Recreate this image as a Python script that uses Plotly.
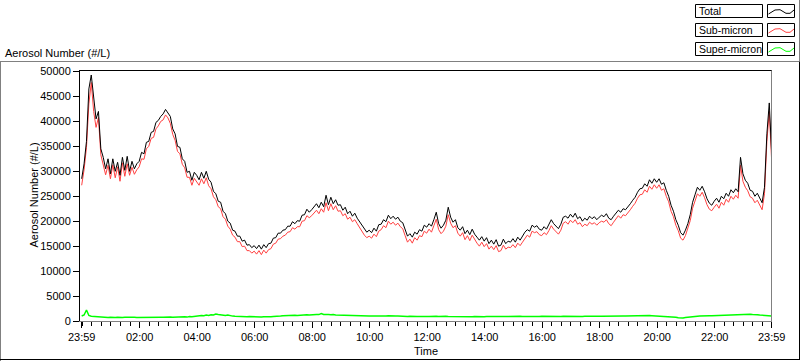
import pandas as pd
import plotly.graph_objects as go

# ---------------- data (5-minute samples, 23:59 -> 23:59 next day) ----------------
total = [
    28500, 31500, 36000, 46500, 49300, 44500, 40500, 42000, 34500, 32800, 30500, 32500,
    29500, 32500, 30000, 31800, 29200, 32800, 30200, 33000, 30000, 32000, 30500, 31500,
    32000, 33800, 33500, 35800, 36000, 37800, 38000, 39800, 40200, 41000, 41500, 42400,
    41800, 41000, 38500, 37500, 35000, 34800, 32500, 32000, 29800, 30000, 28200, 29800,
    29200, 28300, 29800, 28600, 30000, 28400, 27800, 26000, 25500, 24000, 23800, 22000,
    21500, 20000, 19600, 18200, 18000, 17000, 17000, 16000, 16200, 15200, 15300, 14700,
    15100, 14500, 15200, 14400, 15300, 14700, 15500, 15600, 16600, 16700, 17600, 17600,
    18200, 18300, 19000, 19000, 19900, 19500, 20100, 20000, 21200, 21300, 22400, 21800,
    22300, 22800, 23500, 22700, 23800, 22900, 25200, 23300, 24800, 23500, 24300, 23200,
    23300, 22200, 22800, 21500, 22000, 21000, 21600, 20600, 19900, 19000, 18400, 17800,
    18200, 17700, 18600, 18000, 19300, 19400, 20300, 19900, 21200, 20500, 21000, 20400,
    20800, 20000, 19700, 18200, 17000, 17500, 16800, 17800, 17400, 18300, 18000, 19200,
    18800, 19500, 19000, 20300, 21800, 19500, 18600, 19200, 20200, 22800, 20800, 19800,
    20300, 18700, 18200, 18900, 17500, 18200, 17300, 18400, 17400, 16800, 16200, 16900,
    16000, 16700, 15500, 16200, 15400, 16300, 15000, 15200, 16400, 15500, 16000, 15800,
    16500, 15800, 16800, 16200, 17000, 17800, 18300, 18000, 19200, 18800, 19100, 18400,
    18200, 18900, 18400, 19300, 20300, 19500, 19000, 18500, 19400, 20800, 21000, 20600,
    21400, 20800, 21600, 20500, 20900, 20000, 20600, 20200, 21000, 20500, 20900, 20300,
    20800, 21200, 20900, 21500, 20600, 20300, 21000, 21700, 22200, 21800, 22500, 22300,
    22800, 23500, 24200, 24800, 25800, 26500, 26600, 27500, 27000, 28300, 27600, 28500,
    27800, 28500, 27400, 27700, 26200, 25000, 23200, 22000, 20300, 19200, 17700, 17200,
    18200, 19500, 21300, 23800, 25300, 26800, 26200, 27000, 25900, 24500, 23600, 23200,
    24000, 24600, 23800, 25000, 24500, 25600, 25000, 26300, 25700, 26500, 25900, 32800,
    29500, 28200, 27600, 26200, 26000, 25000, 25600, 24500, 23700, 26800, 37500, 43700,
    33500,
]

sub_micron = [
    27200, 30300, 34800, 43500, 47800, 42000, 38800, 40800, 33300, 31300, 29300, 31200,
    28500, 31300, 28700, 30900, 28000, 31700, 29000, 31500, 29200, 30800, 29400, 30300,
    30900, 32500, 32400, 34500, 35000, 36600, 36800, 38500, 39100, 40000, 40300, 41300,
    40700, 39600, 37400, 36200, 34000, 33500, 31400, 30700, 28800, 28800, 27200, 28600,
    28000, 27200, 28500, 27500, 28700, 27100, 26500, 24900, 24300, 22900, 22500, 20900,
    20400, 19000, 18400, 17200, 16800, 15900, 15900, 14900, 15000, 14100, 14100, 13600,
    14000, 13400, 14100, 13300, 14200, 13600, 14300, 14500, 15400, 15600, 16400, 16500,
    17000, 17200, 17800, 17900, 18700, 18400, 18900, 18900, 20000, 20100, 21100, 20700,
    21100, 21700, 22200, 21500, 22500, 21800, 23700, 22100, 23500, 22300, 23100, 22000,
    22100, 21100, 21500, 20400, 20800, 19900, 20300, 19500, 18700, 17900, 17200, 16700,
    17000, 16600, 17400, 16900, 18000, 18300, 19100, 18700, 20000, 19400, 19800, 19200,
    19600, 18900, 18500, 17100, 15800, 16400, 15600, 16700, 16200, 17100, 16900, 18000,
    17600, 18400, 17800, 19100, 20400, 18300, 17500, 18000, 19000, 21300, 19600, 18700,
    19100, 17600, 17000, 17700, 16300, 17100, 16100, 17200, 16300, 15600, 15000, 15800,
    14900, 15500, 14400, 15000, 14300, 15100, 13900, 14100, 15200, 14400, 14800, 14700,
    15300, 14700, 15600, 15100, 15800, 16600, 17200, 16800, 18000, 17700, 17900, 17300,
    17100, 17700, 17300, 18100, 19100, 18400, 17800, 17400, 18200, 19600, 19900, 19400,
    20200, 19700, 20300, 19400, 19700, 18900, 19400, 19100, 19800, 19400, 19700, 19200,
    19700, 20000, 19800, 20300, 19500, 19100, 19800, 20500, 21100, 20600, 21300, 21100,
    21600, 22300, 23000, 23600, 24600, 25300, 25400, 26300, 25800, 27000, 26400, 27300,
    26600, 27300, 26200, 26500, 25000, 23900, 22000, 20900, 19200, 18100, 16600, 16200,
    17100, 18400, 20100, 22600, 24100, 25500, 25000, 25800, 24700, 23300, 22400, 22100,
    22800, 23400, 22600, 23800, 23200, 24400, 23800, 25000, 24400, 25200, 24600, 31200,
    28000, 26800, 26100, 24900, 24600, 23700, 24200, 23100, 22300, 25500, 36000, 42000,
    32000,
]

super_micron = [
    1000, 1200, 2200, 1100, 950, 900, 820, 760, 800, 720, 760, 700,
    740, 680, 720, 760, 690, 700, 740, 780, 700, 720, 760, 700,
    720, 700, 760, 740, 700, 780, 760, 720, 800, 760, 740, 780,
    760, 800, 740, 780, 820, 760, 800, 840, 780, 900, 860, 940,
    980, 1020, 1100, 1050, 1180, 1120, 1250, 1200, 1380, 1300, 1220, 1150,
    1100, 1180, 1020, 980, 940, 900, 960, 880, 900, 860, 920, 880,
    820, 860, 800, 780, 840, 800, 880, 860, 920, 900, 960, 1000,
    1040, 1080, 1100, 1060, 1120, 1140, 1100, 1160, 1200, 1180, 1240, 1200,
    1260, 1220, 1300, 1280, 1500, 1320, 1360, 1280, 1240, 1300, 1200, 1180,
    1140, 1100, 1080, 1120, 1060, 1040, 1080, 1020, 1060, 1000, 1040, 1000,
    980, 1020, 1000, 960, 1040, 1000, 980, 1020, 1060, 1000, 980, 1020,
    1000, 960, 940, 980, 920, 960, 900, 940, 920, 880, 940, 900,
    920, 880, 940, 900, 960, 920, 880, 900, 940, 920, 900, 880,
    900, 860, 880, 920, 880, 840, 880, 860, 900, 860, 840, 880,
    860, 880, 900, 860, 880, 920, 900, 880, 920, 900, 880, 920,
    900, 940, 920, 960, 920, 900, 940, 960, 920, 940, 900, 920,
    940, 920, 900, 940, 960, 920, 900, 940, 920, 960, 940, 920,
    960, 940, 920, 960, 940, 900, 940, 920, 960, 940, 980, 960,
    940, 960, 980, 940, 960, 1000, 980, 960, 1000, 980, 1020, 1000,
    1020, 1000, 1040, 1020, 1060, 1040, 1080, 1060, 1040, 1080, 1060, 1040,
    1020, 1000, 980, 960, 940, 900, 860, 820, 740, 640, 560, 600,
    700, 780, 860, 900, 940, 960, 1000, 980, 1020, 1000, 1040, 1060,
    1080, 1100, 1140, 1120, 1180, 1200, 1240, 1300, 1280, 1320, 1360, 1400,
    1380, 1400, 1340, 1360, 1300, 1320, 1260, 1200, 1160, 1120, 1080, 1060,
    1000,
]

times = pd.date_range("2000-01-01 23:59", periods=len(total), freq="5min")

x_tick_vals = ["2000-01-01 23:59"] + [f"2000-01-02 {h:02d}:00" for h in range(2, 24, 2)] + ["2000-01-02 23:59"]
x_tick_text = ["23:59"] + [f"{h:02d}:00" for h in range(2, 24, 2)] + ["23:59"]
y_tick_vals = list(range(0, 50001, 5000))

series_names = ["Total", "Sub-micron", "Super-micron"]
series_colors = ["#000000", "#ff4040", "#00ff00"]

# ---------------- figure ----------------
W, H = 800, 361
L, R, T, B = 80, 28, 70, 40
PW, PH = W - L - R, H - T - B

def px(x):
    return (x - L) / PW

def py(y):
    return (H - B - y) / PH

FONT = "Liberation Sans, Arial, sans-serif"

fig = go.Figure()
for name, ys, col, wid in [("Super-micron", super_micron, series_colors[2], 1.5),
                           ("Sub-micron", sub_micron, series_colors[1], 1),
                           ("Total", total, series_colors[0], 1)]:
    fig.add_trace(go.Scatter(x=times, y=ys, mode="lines", name=name,
                             line=dict(color=col, width=wid), showlegend=False,
                             hoverinfo="skip"))

shapes = []
def line(x0, y0, x1, y1, color, width=1):
    shapes.append(dict(type="line", xref="paper", yref="paper",
                       x0=px(x0), y0=py(y0), x1=px(x1), y1=py(y1),
                       line=dict(color=color, width=width), layer="above"))

# outer panel
line(0, 61.5, 799, 61.5, "#808080")
line(0.5, 61.5, 0.5, 361, "#808080")
line(0, 359.5, 799.5, 359.5, "#000000")
line(799.5, 0, 799.5, 61.5, "#808080")
line(799.5, 61.5, 799.5, 360, "#000000")
# plot frame (top black, right gray)
line(80, 70.5, 772, 70.5, "#000000")
line(771.5, 70.5, 771.5, 321, "#808080")

annotations = [
    dict(text="Aerosol Number (#/L)", x=px(3), y=py(52.5), xanchor="left", yanchor="middle"),
    dict(text="Time", x=0.5, y=py(351), xanchor="center", yanchor="middle"),
    dict(text="Aerosol Number (#/L)", x=px(33), y=0.5, xanchor="center", yanchor="middle", textangle=-90),
]

# custom LabVIEW-style legend
row_tops = [4.5, 23.5, 42.5]
zig = [(768.5, 9.5), (775, 5.5), (780, 5.2), (786, 8.8), (790, 8.8), (794, 5.5)]
for name, col, top in zip(series_names, series_colors, row_tops):
    bot = top + 13
    shapes.append(dict(type="rect", xref="paper", yref="paper",
                       x0=px(695.5), x1=px(762.5), y0=py(bot), y1=py(top),
                       line=dict(color="#000000", width=1), fillcolor="white", layer="above"))
    shapes.append(dict(type="rect", xref="paper", yref="paper",
                       x0=px(767.5), x1=px(794.5), y0=py(bot), y1=py(top),
                       line=dict(color="#000000", width=1), fillcolor="white", layer="above"))
    path = "M " + " L ".join(f"{px(x)},{py(top + y)}" for x, y in zig)
    shapes.append(dict(type="path", xref="paper", yref="paper", path=path,
                       line=dict(color=col, width=1), layer="above"))
    annotations.append(dict(text=name, x=px(696.5), y=py(top + 6.8), xanchor="left", yanchor="middle",
                            fontsize=10.5))

for a in annotations:
    size = a.pop("fontsize", 11)
    a.update(xref="paper", yref="paper", showarrow=False,
             font=dict(family=FONT, size=size, color="#000000"))

fig.update_layout(
    width=W, height=H,
    margin=dict(l=L, r=R, t=T, b=B, autoexpand=False),
    paper_bgcolor="white", plot_bgcolor="white",
    font=dict(family=FONT, size=11, color="#000000"),
    showlegend=False,
    shapes=shapes, annotations=annotations,
    xaxis=dict(
        range=["2000-01-01 23:55:30", "2000-01-02 23:59:40"],
        tickmode="array", tickvals=x_tick_vals, ticktext=x_tick_text,
        ticks="outside", ticklen=6, tickcolor="#000000", tickwidth=1,
        showline=True, linecolor="#808080", linewidth=1,
        showgrid=False, zeroline=False,
        minor=dict(ticks="outside", ticklen=4, tickcolor="#000000",
                   dtick=20 * 60 * 1000, tick0="2000-01-02 00:00", showgrid=False),
        tickfont=dict(family=FONT, size=11, color="#000000"),
    ),
    yaxis=dict(
        range=[0, 50300],
        tickmode="array", tickvals=y_tick_vals, tickformat="d",
        ticks="outside", ticklen=6, tickcolor="#000000", tickwidth=1,
        showline=True, linecolor="#000000", linewidth=1,
        showgrid=False, zeroline=False,
        tickfont=dict(family=FONT, size=11, color="#000000"),
    ),
)

fig.write_html("out.html", config={"displayModeBar": False},
               post_script="document.body.style.margin='0';document.body.style.overflow='hidden';")
